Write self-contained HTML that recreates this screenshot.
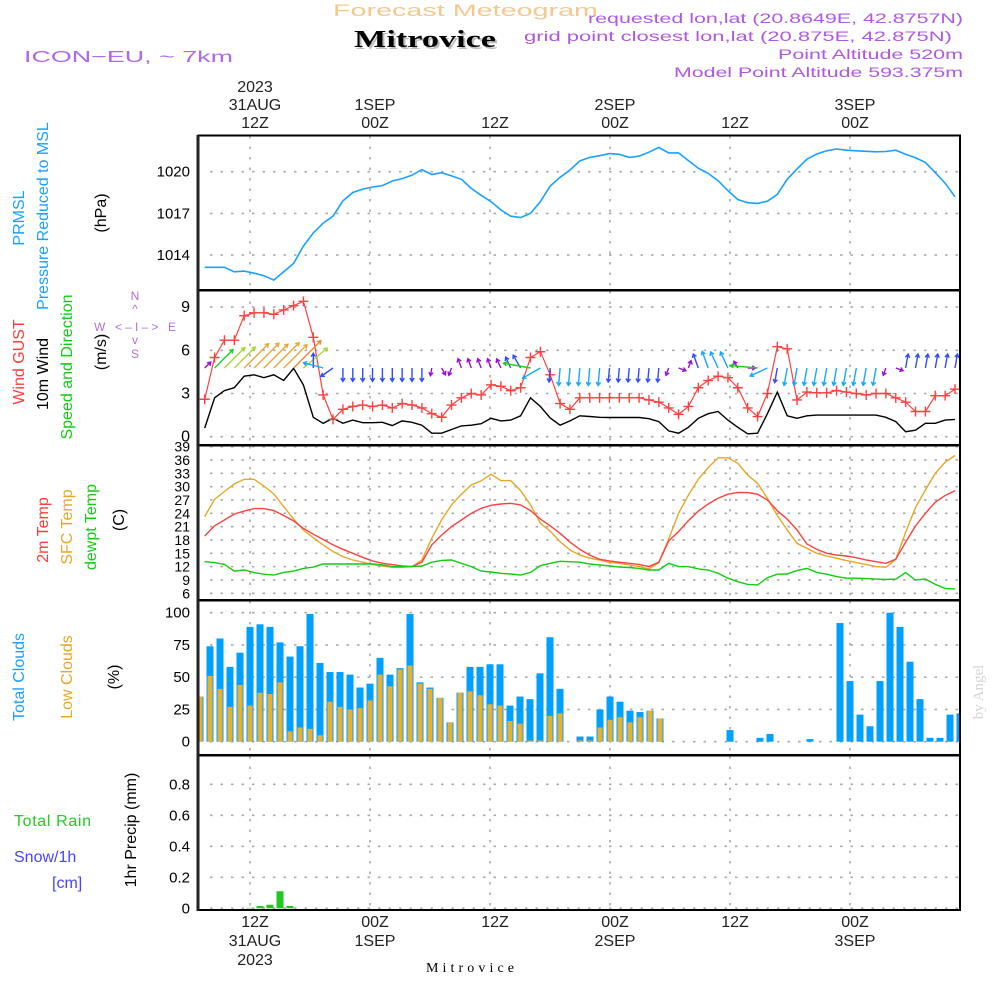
<!DOCTYPE html>
<html><head><meta charset="utf-8"><style>
body{margin:0;background:#fff;width:1000px;height:1000px;overflow:hidden}
svg{display:block;font-family:"Liberation Sans",sans-serif}
</style></head><body>
<svg id="chart" width="1000" height="1000" viewBox="0 0 1000 1000" xmlns="http://www.w3.org/2000/svg">
<defs>
<clipPath id="c1"><rect x="199" y="136" width="761" height="154"/></clipPath>
<clipPath id="c2"><rect x="199" y="291" width="761" height="154"/></clipPath>
<clipPath id="c3"><rect x="199" y="446" width="761" height="154"/></clipPath>
<clipPath id="c4"><rect x="199" y="601" width="761" height="154"/></clipPath>
<clipPath id="c5"><rect x="199" y="756" width="761" height="154"/></clipPath>
</defs>
<text x="333" y="16" textLength="265" lengthAdjust="spacingAndGlyphs" font-size="17" fill="#f3c98f">Forecast Meteogram</text>
<text x="356" y="49" textLength="142" lengthAdjust="spacingAndGlyphs" font-size="24" font-weight="bold" font-family="Liberation Serif,serif" fill="#bbb">Mitrovice</text>
<text x="354" y="47" textLength="142" lengthAdjust="spacingAndGlyphs" font-size="24" font-weight="bold" font-family="Liberation Serif,serif" fill="#000">Mitrovice</text>
<text x="24" y="62" textLength="209" lengthAdjust="spacingAndGlyphs" font-size="16" fill="#b068e8">ICON−EU, ~ 7km</text>
<g font-size="14" fill="#b058e0">
<text x="588" y="23" textLength="375" lengthAdjust="spacingAndGlyphs">requested lon,lat (20.8649E, 42.8757N)</text>
<text x="524" y="41" textLength="428" lengthAdjust="spacingAndGlyphs">grid point closest lon,lat (20.875E, 42.875N)</text>
<text x="778" y="59" textLength="185" lengthAdjust="spacingAndGlyphs">Point Altitude 520m</text>
<text x="674" y="77" textLength="289" lengthAdjust="spacingAndGlyphs">Model Point Altitude 593.375m</text>
</g>
<g id="grid"></g>
<g id="marks"></g>
<g id="frames"></g>
<g id="labels" font-size="16"></g>
<g font-size="16">
<text transform="translate(24,218) rotate(-90)" text-anchor="middle" fill="#1aa0ff">PRMSL</text>
<text transform="translate(48,216) rotate(-90)" text-anchor="middle" fill="#1aa0ff">Pressure Reduced to MSL</text>
<text transform="translate(106,213) rotate(-90)" text-anchor="middle" fill="#000">(hPa)</text>
<text transform="translate(24,362) rotate(-90)" text-anchor="middle" fill="#ff3b3b">Wind GUST</text>
<text transform="translate(48,374) rotate(-90)" text-anchor="middle" fill="#000">10m Wind</text>
<text transform="translate(72,367) rotate(-90)" text-anchor="middle" fill="#11cc11">Speed and Direction</text>
<text transform="translate(106,352) rotate(-90)" text-anchor="middle" fill="#000">(m/s)</text>
<text transform="translate(48,530) rotate(-90)" text-anchor="middle" fill="#ff3b3b">2m Temp</text>
<text transform="translate(72,527) rotate(-90)" text-anchor="middle" fill="#e8a628">SFC Temp</text>
<text transform="translate(96,527) rotate(-90)" text-anchor="middle" fill="#11cc11">dewpt Temp</text>
<text transform="translate(124,520) rotate(-90)" text-anchor="middle" fill="#000">(C)</text>
<text transform="translate(24,677) rotate(-90)" text-anchor="middle" fill="#1aa0ff">Total Clouds</text>
<text transform="translate(72,677) rotate(-90)" text-anchor="middle" fill="#e8a628">Low Clouds</text>
<text transform="translate(119,677) rotate(-90)" text-anchor="middle" fill="#000">(%)</text>
<text transform="translate(136,830) rotate(-90)" text-anchor="middle" fill="#000">1hr Precip (mm)</text>
<text x="14" y="826" fill="#22cc22" textLength="77" lengthAdjust="spacing">Total  Rain</text>
<text x="14" y="862" fill="#4444ff">Snow/1h</text>
<text x="52" y="888" fill="#4444ff">[cm]</text>
<text transform="translate(983,692) rotate(-90)" text-anchor="middle" fill="#d4d4d4" font-family="Liberation Serif,serif" font-size="15">by Angel</text>
<text x="470" y="972" text-anchor="middle" font-family="Liberation Serif,serif" font-size="14" fill="#000" textLength="88" lengthAdjust="spacing">Mitrovice</text>
</g>
<g font-size="12" fill="#b070e0" text-anchor="middle">
<text x="135" y="300">N</text>
<text x="135" y="313">^</text>
<text x="135" y="331" textLength="82" lengthAdjust="spacing">W &lt;–I–&gt; E</text>
<text x="135" y="344">v</text>
<text x="135" y="358">S</text>
</g>
</svg>
<script>
// ---- data (hourly, lines start ~06:40Z 31 Aug; bars t = hours from 12Z 31 Aug, -5..71) ----
const pressure=[1013.12,1013.12,1013.12,1012.8,1012.85,1012.7,1012.52,1012.2,1012.8,1013.4,1014.65,1015.6,1016.3,1016.8,1017.9,1018.5,1018.75,1018.9,1019.0,1019.33,1019.5,1019.75,1020.15,1019.8,1019.93,1019.7,1019.45,1018.8,1018.3,1017.85,1017.25,1016.8,1016.7,1017.0,1017.85,1018.97,1019.6,1020.12,1020.77,1021.03,1021.15,1021.3,1021.25,1021.03,1021.12,1021.4,1021.75,1021.35,1021.35,1020.8,1020.25,1019.88,1019.35,1018.63,1018.0,1017.77,1017.72,1017.88,1018.37,1019.45,1020.2,1020.9,1021.27,1021.5,1021.63,1021.55,1021.5,1021.47,1021.43,1021.45,1021.55,1021.25,1021.0,1020.67,1019.93,1019.17,1018.2];
const gust=[2.6,5.5,6.7,6.7,8.4,8.6,8.6,8.5,8.8,9.1,9.4,6.9,2.9,1.2,1.9,2.1,2.2,2.1,2.2,2.0,2.3,2.2,2.0,1.6,1.35,2.2,2.7,3.0,2.9,3.6,3.5,3.2,3.4,5.5,5.9,4.3,2.3,1.9,2.7,2.7,2.7,2.7,2.7,2.7,2.7,2.55,2.4,2.0,1.55,2.1,3.4,3.9,4.2,4.1,3.4,2.0,1.4,3.0,6.25,6.1,2.55,3.1,3.05,3.05,3.2,3.1,3.0,2.9,3.0,3.0,2.7,2.4,1.75,1.75,2.85,2.85,3.3];
const wind10=[0.6,2.7,3.2,3.4,4.2,4.3,4.1,4.3,3.9,4.75,3.6,1.35,0.93,1.28,0.93,1.15,0.97,0.97,1.0,0.77,1.1,1.0,0.8,0.24,0.24,0.5,0.75,0.8,0.9,1.28,1.1,1.15,1.45,2.7,2.1,1.3,0.8,1.1,1.45,1.4,1.35,1.33,1.33,1.33,1.33,1.25,1.05,0.4,0.24,0.65,1.28,1.6,1.75,1.15,0.65,0.2,0.24,1.6,3.1,1.45,1.28,1.45,1.5,1.5,1.5,1.5,1.5,1.5,1.5,1.35,1.05,0.35,0.45,0.93,0.93,1.15,1.2];
const arrowDir=[45,45,45,45,45,45,45,45,45,45,50,0,285,235,180,180,180,180,180,180,180,180,180,190,150,200,340,340,340,340,335,335,330,280,240,185,185,185,185,185,185,185,185,185,185,185,185,200,110,20,340,340,335,335,330,90,275,245,190,190,190,190,190,190,190,190,190,190,190,200,110,10,10,10,10,10,10];
const arrowSpd=[0.5,3.0,3.4,3.5,4.2,4.3,4.1,4.4,4.0,4.8,3.7,1.4,2.2,1.4,1.2,1.2,1.2,1.2,1.2,1.2,1.2,1.2,1.2,0.4,0.4,0.4,0.7,0.7,0.7,0.7,0.7,1.0,1.4,3.2,2.2,1.3,1.8,1.8,1.8,1.8,1.8,1.3,1.3,1.3,1.3,1.3,1.3,0.4,0.4,0.4,1.4,1.8,1.8,1.8,0.4,0.4,3.2,2.0,1.4,1.8,1.8,1.8,1.8,1.8,1.8,1.8,1.8,1.8,1.8,0.4,0.4,1.3,1.3,1.3,1.3,1.3,1.3];
const temp2m=[18.9,21.2,22.5,23.85,24.5,25.05,25.05,24.6,23.5,22.3,20.6,19.3,18.1,16.9,15.9,15.0,14.1,13.3,12.75,12.45,12.15,12.0,13.0,16.9,19.1,21.0,22.5,24.0,25.1,25.8,26.1,26.25,25.9,24.6,22.7,21.2,19.5,17.5,15.9,14.6,13.65,13.3,13.0,12.75,12.5,12.0,13.0,17.8,19.9,22.35,24.5,26.1,27.4,28.3,28.7,28.65,28.3,27.0,24.6,22.7,20.25,17.1,15.9,15.0,14.6,14.4,14.0,13.5,13.1,12.75,13.7,17.5,21.15,24.0,26.5,28.0,29.1];
const tempSfc=[23.25,27.15,28.9,30.6,31.65,31.65,30.15,28.35,25.5,22.7,20.25,18.5,16.9,15.4,14.25,13.5,13.0,12.5,12.15,11.85,11.85,12.0,13.5,18.4,22.5,25.9,28.3,30.4,31.3,32.8,31.35,31.35,29.1,25.9,21.75,20.0,17.6,15.75,14.6,13.9,13.5,12.9,12.75,12.4,12.0,11.5,12.9,18.2,24.0,28.1,31.65,34.3,36.5,36.5,35.25,32.6,30.75,27.4,23.5,20.25,17.25,16.1,15.0,14.4,13.9,13.35,12.9,12.5,12.0,11.85,13.65,19.7,25.3,29.25,33.0,35.5,37.0];
const dewpt=[13.1,12.9,12.5,11.0,11.25,10.65,10.3,10.1,10.7,11.0,11.6,11.9,12.6,12.6,12.6,12.6,12.6,12.6,12.4,12.0,12.0,12.0,12.15,13.0,13.4,13.5,12.75,12.0,11.0,10.8,10.5,10.35,10.1,10.7,12.2,12.75,13.2,13.1,13.0,12.6,12.4,12.15,11.9,11.8,11.6,11.25,11.25,12.75,12.0,12.0,11.5,11.25,10.5,9.4,8.6,8.0,7.9,9.5,10.3,10.35,11.1,11.6,10.7,10.3,9.75,9.4,9.4,9.3,9.2,9.1,9.2,10.65,9.0,9.2,8.0,7.1,7.0];
const barHours=[-5,-4,-3,-2,-1,0,1,2,3,4,5,6,7,8,9,10,11,12,13,14,15,16,17,18,19,20,21,22,23,24,25,26,27,28,29,30,31,32,33,34,35,36,37,38,39,40,41,42,43,44,45,46,47,48,49,50,51,52,53,54,55,56,57,58,59,60,61,62,63,64,65,66,67,68,69,70,71];
const totalClouds=[35,74,80,58,69,89,91,89,77,66,74,99,61,54,54,52,42,45,65,52,57,99,46,42,34,15,38,58,58,60,60,28,35,33,53,81,41,0,4,4,25,35,31,24,23,24,18,0,0,0,0,0,0,9,0,0,3,6,0,0,0,2,0,0,92,47,21,12,47,100,89,62,33,3,3,21,22];
const lowClouds=[35,51,41,27,44,28,38,37,46,8,11,10,5,31,27,25,26,32,52,43,56,59,45,41,34,15,38,39,36,29,28,16,14,1,1,20,22,0,1,1,11,17,19,15,19,24,18,0,0,0,0,0,0,0,0,0,0,0,0,0,0,0,0,0,0,0,0,0,0,0,0,0,0,0,0,0,0];
const precipHours=[0,1,2,3,4];
const precip=[0.003,0.015,0.023,0.11,0.015];
const pTicks=[1014,1017,1020];
const wTicks=[0,3,6,9];
const tTicks=[6,9,12,15,18,21,24,27,30,33,36,39];
const cTicks=[0,25,50,75,100];
const rTicks=[0,0.2,0.4,0.6,0.8];
const gridHours=[0,12,24,36,48,60];
const topLabels=[["2023","31AUG","12Z"],["","1SEP","00Z"],["","","12Z"],["","2SEP","00Z"],["","","12Z"],["","3SEP","00Z"]];
const botLabels=[["12Z","31AUG","2023"],["00Z","1SEP",""],["12Z","",""],["00Z","2SEP",""],["12Z","",""],["00Z","3SEP",""]];

// ---- scales ----
const NS="http://www.w3.org/2000/svg";
const xH=t=>250+10*t;
const xL=i=>204.7+i*(955-204.7)/76;
const yP=p=>171.7-(p-1020)*13.9;
const yW=v=>436.7-v*14.4;
const yT=T=>593.3-(T-6)*4.444;
const yC=c=>741.7-c*1.29;
const yR=r=>908.3-r*155;
function mk(tag,attrs,parent){const e=document.createElementNS(NS,tag);for(const k in attrs)e.setAttribute(k,attrs[k]);parent.appendChild(e);return e;}
const grid=document.getElementById('grid'),marks=document.getElementById('marks'),frames=document.getElementById('frames'),labels=document.getElementById('labels');
const panels=[[136,290],[291,445],[446,600],[601,755],[756,910]];
const dot={stroke:"#aaa","stroke-width":1.6,"stroke-dasharray":"2.5,8"};
panels.forEach(([a,b])=>gridHours.forEach(h=>{const l=mk('line',Object.assign({x1:xH(h),x2:xH(h),y1:a,y2:b},dot),grid);

}));
function hgrid(ticks,fy,fmt,name,fs){ticks.forEach(v=>{const y=fy(v);
const l=mk('line',Object.assign({x1:210,x2:960,y1:y,y2:y},dot),grid);


const t=mk('text',{x:190,y:y+5,'text-anchor':'end','font-size':fs},labels);t.textContent=fmt(v);

});}
hgrid(pTicks,yP,v=>v,'pressure',15);
hgrid(wTicks,yW,v=>v,'wind',16);
hgrid(tTicks,yT,v=>v,'temp',14);
hgrid(cTicks,yC,v=>v,'cloud',15);
hgrid(rTicks,yR,v=>v===0?'0':v.toFixed(1),'precip',15);
gridHours.forEach((h,k)=>{topLabels[k].forEach((s,j)=>{if(!s)return;const t=mk('text',{x:xH(h)+5,y:92+j*18,'text-anchor':'middle','fill':'#222'},labels);t.textContent=s;

});
botLabels[k].forEach((s,j)=>{if(!s)return;const t=mk('text',{x:xH(h)+5,y:927+j*19,'text-anchor':'middle','fill':'#222'},labels);t.textContent=s;

});});
function line(arr,fy,color,clip,name,w){const pts=arr.map((v,i)=>xL(i).toFixed(1)+','+fy(v).toFixed(1)).join(' ');
const p=mk('polyline',{points:pts,fill:'none',stroke:color,'stroke-width':w||1.4,'clip-path':'url(#'+clip+')'},marks);

}
line(pressure,yP,'#1aa0ff','c1','pressure-line',1.6);
line(wind10,yW,'#000','c2','wind-speed-line',1.4);
line(gust,yW,'#ff4040','c2','wind-gust-line',1.2);
gust.forEach((v,i)=>{const x=xL(i),y=yW(v);
const g=mk('path',{d:`M${x-5},${y}h10M${x},${y-5}v10`,stroke:'#ff4040','stroke-width':1.4,'clip-path':'url(#c2)'},marks);

});
function acol(s){return s<0.8?'#9a10d8':s<1.5?'#2f4cff':s<2.6?'#15a8ff':s<3.3?'#22cc22':s<3.9?'#a8d838':s<4.5?'#e8a838':'#ec8a30';}
arrowDir.forEach((d,i)=>{const s=arrowSpd[i],L=5+7*s,r=d*Math.PI/180,x0=xL(i),y0=368,x1=x0+L*Math.sin(r),y1=y0-L*Math.cos(r);
const h=4,a1=r+Math.PI*0.82,a2=r-Math.PI*0.82;
const a=mk('path',{d:`M${x0.toFixed(1)},${y0}L${x1.toFixed(1)},${y1.toFixed(1)}M${(x1+h*Math.sin(a1)).toFixed(1)},${(y1-h*Math.cos(a1)).toFixed(1)}L${x1.toFixed(1)},${y1.toFixed(1)}L${(x1+h*Math.sin(a2)).toFixed(1)},${(y1-h*Math.cos(a2)).toFixed(1)}`,fill:'none',stroke:acol(s),'stroke-width':1.4,'clip-path':'url(#c2)'},marks);

});
line(tempSfc,yT,'#e8a628','c3','sfc-temp-line',1.4);
line(temp2m,yT,'#ff4040','c3','temp-2m-line',1.4);
line(dewpt,yT,'#11cc11','c3','dewpoint-line',1.4);
barHours.forEach((t,k)=>{const x=xH(t);const tc=totalClouds[k],lc=lowClouds[k];
if(tc>0){const b=mk('rect',{x:x-3.5,y:yC(tc),width:7,height:yC(0)-yC(tc),fill:'#00a0ff','clip-path':'url(#c4)'},marks);

}
if(lc>0){const b=mk('rect',{x:x-2.5,y:yC(lc),width:5,height:yC(0)-yC(lc),fill:'#e8b030','clip-path':'url(#c4)'},marks);

}});
precipHours.forEach((t,k)=>{const x=xH(t);
const b=mk('rect',{x:x-3.5,y:yR(precip[k]),width:7,height:yR(0)-yR(precip[k]),fill:'#22c822'},marks);

});
panels.forEach(([a,b])=>{const f=mk('rect',{x:198.5,y:a-0.5,width:761.5,height:b-a+0.5,fill:'none',stroke:'#000','stroke-width':2},frames);

});
const bl=mk('line',{x1:198,x2:198,y1:135,y2:911,stroke:'#222','stroke-width':3},frames);


</script>
</body></html>
